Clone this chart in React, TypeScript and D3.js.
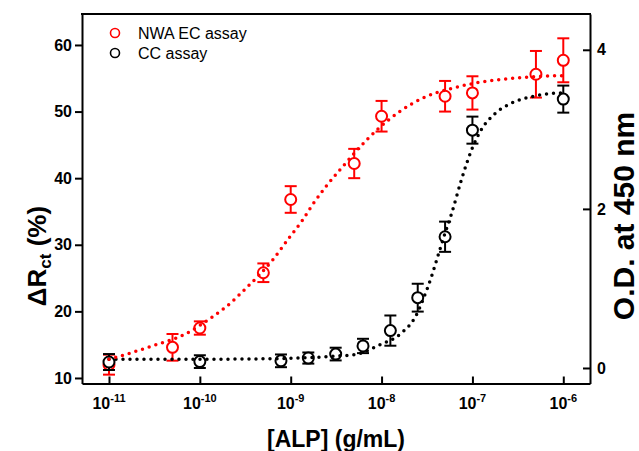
import React, { useEffect, useRef } from "react";
import * as d3 from "d3";

// NWA EC assay (left axis, %)
const concNWA = [1e-11, 5e-11, 1e-10, 5e-10, 1e-9, 5e-9, 1e-8, 5e-8, 1e-7, 5e-7, 1e-6];
const valNWA = [12.0, 14.6, 17.5, 25.8, 36.8, 42.2, 49.3, 52.3, 52.8, 55.6, 57.7];
const errNWA = [1.5, 2.0, 1.0, 1.4, 2.0, 2.2, 2.3, 2.3, 2.5, 3.5, 3.3];

// CC assay (right axis, O.D.)
const concCC = [1e-11, 1e-10, 7.8125e-10, 1.5625e-9, 3.125e-9, 6.25e-9, 1.25e-8, 2.5e-8, 5e-8, 1e-7, 1e-6];
const valCC = [0.075, 0.08, 0.09, 0.125, 0.175, 0.277, 0.47, 0.884, 1.65, 2.99, 3.38];
const errCC = [0.1, 0.08, 0.08, 0.07, 0.08, 0.09, 0.19, 0.175, 0.19, 0.17, 0.17];

// fitted curves: [log10 conc, value]
const fitNWA: [number, number][] = [
  [-11.0, 12.8], [-10.5, 14.9], [-10.16, 16.6], [-9.88, 19.0], [-9.71, 20.7],
  [-9.49, 23.5], [-9.2, 27.7], [-9.02, 31.0], [-8.87, 33.7], [-8.76, 36.0],
  [-8.62, 38.6], [-8.43, 41.7], [-8.25, 44.5], [-8.03, 47.5], [-7.8, 50.0],
  [-7.55, 52.0], [-7.25, 53.4], [-6.96, 54.3], [-6.7, 54.8], [-6.37, 55.2], [-6.0, 55.4],
];
const fitCC: [number, number][] = [
  [-11.0, 0.11], [-10.0, 0.11], [-9.3, 0.115], [-8.8, 0.13], [-8.5, 0.15],
  [-8.29, 0.17], [-8.02, 0.29], [-7.78, 0.44], [-7.63, 0.64], [-7.49, 1.02],
  [-7.3, 1.7], [-7.23, 1.94], [-7.12, 2.37], [-7.01, 2.74], [-6.9, 3.0],
  [-6.75, 3.2], [-6.57, 3.33], [-6.35, 3.41], [-6.13, 3.45], [-6.0, 3.46],
];

const leftTicks = [10, 20, 30, 40, 50, 60];
const leftMinor = [15, 25, 35, 45, 55];
const rightTicks = [0, 2, 4];
const rightMinor = [1, 3];
const decades = [-11, -10, -9, -8, -7, -6];

const RED = "#ff0000";
const FONT = "'Liberation Sans', Arial, sans-serif";

export default function App() {
  const svgRef = useRef<SVGSVGElement | null>(null);

  useEffect(() => {
    const svg = d3.select(svgRef.current);
    svg.selectAll("*").remove();

    const m = { left: 82, right: 590, top: 14, bottom: 383.5 };

    const x = d3.scaleLog().domain([10 ** -11.297, 10 ** -5.706]).range([m.left, m.right]);
    const yL = d3.scaleLinear().domain([9.17, 64.65]).range([m.bottom, m.top]);
    const yR = d3.scaleLinear().domain([-0.195, 4.45]).range([m.bottom, m.top]);

    // minor ticks of the log axis
    const [d0, d1] = x.domain();
    const minorX: number[] = [];
    for (let e = -12; e <= -6; e++) {
      for (let k = 2; k <= 9; k++) {
        const v = k * Math.pow(10, e);
        if (v > d0 && v < d1) minorX.push(v);
      }
    }

    const styleAxis = (g: any) => {
      g.selectAll("path, line").attr("stroke", "#000").attr("stroke-width", 2);
      g.selectAll("text")
        .attr("fill", "#000")
        .style("font-family", FONT)
        .style("font-size", "16px")
        .style("font-weight", "bold");
    };

    // bottom axis
    const gx = svg.append("g").attr("transform", `translate(0,${m.bottom})`);
    gx.call(d3.axisBottom(x).tickValues(minorX).tickSize(-4).tickSizeOuter(0).tickFormat(() => "") as any);
    gx.call(
      d3.axisBottom(x).tickValues(decades.map((e) => Math.pow(10, e))).tickSize(-7).tickSizeOuter(0).tickFormat(() => "") as any
    );
    styleAxis(gx);

    decades.forEach((e) => {
      const t = svg
        .append("text")
        .attr("x", x(Math.pow(10, e)))
        .attr("y", 409)
        .attr("text-anchor", "middle")
        .style("font-family", FONT)
        .style("font-size", "16px")
        .style("font-weight", "bold");
      t.append("tspan").text("10");
      t.append("tspan").attr("dy", -7).style("font-size", "11px").text(String(e));
    });

    // left axis
    const gl = svg.append("g").attr("transform", `translate(${m.left},0)`);
    gl.call(d3.axisLeft(yL).tickValues(leftMinor).tickSize(4).tickSizeOuter(0).tickFormat(() => "") as any);
    gl.call(d3.axisLeft(yL).tickValues(leftTicks).tickSize(7).tickPadding(3).tickSizeOuter(0) as any);
    styleAxis(gl);

    // right axis
    const gr = svg.append("g").attr("transform", `translate(${m.right},0)`);
    gr.call(d3.axisRight(yR).tickValues(rightMinor).tickSize(-4).tickSizeOuter(0).tickFormat(() => "") as any);
    gr.call(
      d3.axisRight(yR).tickValues(rightTicks).tickSize(-7).tickPadding(7).tickSizeOuter(0).tickFormat(d3.format("d")) as any
    );
    styleAxis(gr);

    // top frame
    svg
      .append("line")
      .attr("x1", m.left - 1)
      .attr("x2", m.right + 1)
      .attr("y1", m.top)
      .attr("y2", m.top)
      .attr("stroke", "#000")
      .attr("stroke-width", 2);

    // axis titles
    svg
      .append("text")
      .attr("x", 336)
      .attr("y", 447)
      .attr("text-anchor", "middle")
      .style("font-family", FONT)
      .style("font-size", "23px")
      .style("font-weight", "bold")
      .text("[ALP] (g/mL)");

    const lt = svg
      .append("text")
      .attr("transform", "translate(46,256) rotate(-90)")
      .attr("text-anchor", "middle")
      .style("font-family", FONT)
      .style("font-size", "26px")
      .style("font-weight", "bold");
    lt.append("tspan").text("ΔR");
    lt.append("tspan").attr("dy", 5).style("font-size", "17px").text("ct");
    lt.append("tspan").attr("dy", -5).text(" (%)");

    svg
      .append("text")
      .attr("transform", "translate(634,216) rotate(-90)")
      .attr("text-anchor", "middle")
      .style("font-family", FONT)
      .style("font-size", "30px")
      .style("font-weight", "bold")
      .text("O.D. at 450 nm");

    // fit curves (dotted)
    const lineL = d3
      .line<[number, number]>()
      .x((d) => x(Math.pow(10, d[0])))
      .y((d) => yL(d[1]))
      .curve(d3.curveMonotoneX);
    const lineR = d3
      .line<[number, number]>()
      .x((d) => x(Math.pow(10, d[0])))
      .y((d) => yR(d[1]))
      .curve(d3.curveMonotoneX);

    const dotted = (path: any, color: string) =>
      path
        .attr("fill", "none")
        .attr("stroke", color)
        .attr("stroke-width", 3.5)
        .attr("stroke-linecap", "round")
        .attr("stroke-dasharray", "0 7");

    // markers with error bars
    const drawSeries = (conc: number[], vals: number[], errs: number[], y: any, color: string) => {
      const g = svg.append("g");
      conc.forEach((c, i) => {
        const cx = x(c);
        const top = y(vals[i] + errs[i]);
        const bot = y(vals[i] - errs[i]);
        g.append("line").attr("x1", cx).attr("x2", cx).attr("y1", top).attr("y2", bot)
          .attr("stroke", color).attr("stroke-width", 2);
        [top, bot].forEach((yy) =>
          g.append("line").attr("x1", cx - 6).attr("x2", cx + 6).attr("y1", yy).attr("y2", yy)
            .attr("stroke", color).attr("stroke-width", 2)
        );
        g.append("circle").attr("cx", cx).attr("cy", y(vals[i])).attr("r", 5.5)
          .attr("fill", "#fff").attr("stroke", color).attr("stroke-width", 2);
      });
    };

    drawSeries(concNWA, valNWA, errNWA, yL, RED);
    drawSeries(concCC, valCC, errCC, yR, "#000");
    dotted(svg.append("path").attr("d", lineR(fitCC)), "#000");
    dotted(svg.append("path").attr("d", lineL(fitNWA)), RED);

    // legend
    const legend = [
      { label: "NWA EC assay", color: RED, y: 33 },
      { label: "CC assay", color: "#000", y: 53 },
    ];
    legend.forEach((l) => {
      svg.append("circle").attr("cx", 115).attr("cy", l.y).attr("r", 4.5)
        .attr("fill", "none").attr("stroke", l.color).attr("stroke-width", 1.6);
      svg.append("text").attr("x", 138).attr("y", l.y + 5.5)
        .style("font-family", FONT).style("font-size", "16px").text(l.label);
    });
  }, []);

  return (
    <svg
      ref={svgRef}
      width={639}
      height={451}
      style={{ position: "absolute", left: 0, top: 0, background: "#fff" }}
    />
  );
}
